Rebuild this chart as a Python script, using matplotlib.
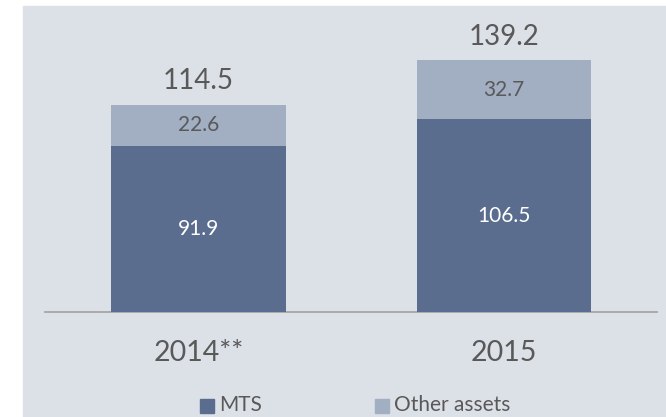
import matplotlib
matplotlib.use('Agg')
import matplotlib.pyplot as plt
from matplotlib.patches import Rectangle

# data
years = ["2014**", "2015"]
mts = [91.9, 106.5]
other = [22.6, 32.7]
totals = [114.5, 139.2]
legend_labels = ["MTS", "Other assets"]

c_mts = "#5b6d8e"
c_other = "#a2aec2"
c_bg = "#dce0e7"
c_txt = "#595959"

W, H = 666, 417
plt.rcParams['font.family'] = ['Lato', 'DejaVu Sans']

fig = plt.figure(figsize=(W / 100, H / 100), dpi=100)
fig.patch.set_facecolor("white")
# grey panel behind the chart
fig.add_artist(Rectangle((23 / W, 0), 1 - 23 / W, 1 - 6 / H,
                         transform=fig.transFigure, color=c_bg, zorder=-10))

# axes: baseline at y=312 px, 1.808 px per unit
scale = 1.808
base = 312
ax = fig.add_axes([45 / W, (H - base) / H, 612 / W, (base - 6) / H])
ax.set_facecolor("none")
ax.set_xlim(-0.5025, 1.5008)
ax.set_ylim(0, (base - 6) / scale)
for s in ax.spines.values():
    s.set_visible(False)
ax.set_xticks([])
ax.set_yticks([])
ax.axhline(0, color="#a6a6a6", lw=1.3, clip_on=False)

x = range(len(years))
w = 0.572
ax.bar(x, mts, w, color=c_mts, zorder=2)
ax.bar(x, other, w, bottom=mts, color=c_other, zorder=2)

for i in x:
    ax.text(i, mts[i] / 2, f"{mts[i]}", ha="center", va="center",
            color="white", fontsize=15)
    ax.text(i, mts[i] + other[i] / 2, f"{other[i]}", ha="center", va="center",
            color=c_txt, fontsize=15)
    ax.text(i, totals[i] + 13, f"{totals[i]}", ha="center", va="center",
            color=c_txt, fontsize=20)
    ax.text(i, -(353 - base) / scale, years[i], ha="center", va="center",
            color=c_txt, fontsize=20.5, clip_on=False)

# legend drawn by hand
leg_x = [200, 375]
for lx, lab, col in zip(leg_x, legend_labels, [c_mts, c_other]):
    fig.add_artist(Rectangle((lx / W, (H - 413) / H), 14 / W, 14 / H,
                             transform=fig.transFigure, color=col))
    fig.text((lx + 19) / W, (H - 405) / H, lab, ha="left", va="center",
             color=c_txt, fontsize=15)

fig.savefig("out.png", dpi=100, facecolor=fig.get_facecolor())
